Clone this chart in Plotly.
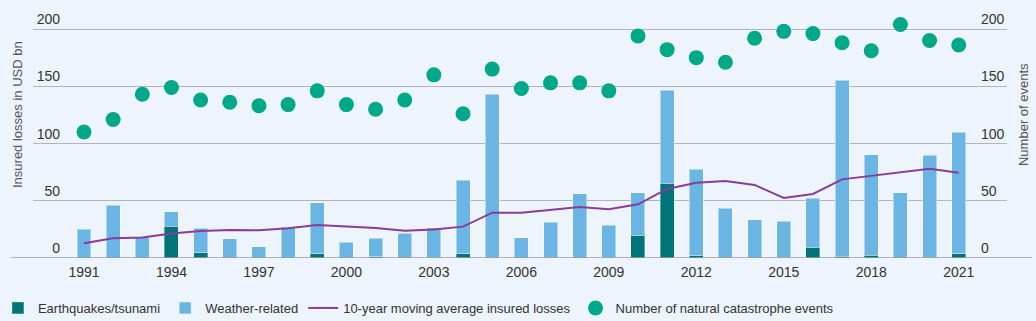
import plotly.graph_objects as go

years = list(range(1991, 2022))
quake = [0, 0, 0, 27.7, 4.4, 0, 0, 0, 3.5, 0,
         1.0, 0, 0.5, 3.5, 0.5, 0, 0.5, 0, 0.5, 19.8,
         65.2, 2.0, 0, 0, 0.5, 9.6, 1.7, 2.6, 0, 0.5, 3.8]
total = [25.0, 46.3, 18.0, 40.2, 26.2, 16.9, 9.9, 26.8, 48.3, 13.7,
         17.2, 21.8, 26.5, 67.8, 143.0, 17.5, 31.4, 56.2, 28.5, 56.8,
         146.4, 77.7, 43.4, 33.2, 32.0, 52.4, 155.2, 90.2, 56.8, 89.7, 110.0]
weather = [round(t - q, 1) for t, q in zip(total, quake)]
moving_avg = [12.8, 17.2, 18.0, 21.5, 23.6, 24.5, 24.2, 25.9, 28.8, 27.4,
              26.2, 23.9, 25.0, 27.4, 39.6, 39.6, 41.9, 44.5, 42.5, 46.9,
              60.3, 65.8, 67.2, 63.8, 52.4, 55.9, 68.7, 71.9, 74.8, 78.0, 74.5]
events = [110, 121, 143, 149, 138, 136, 133, 134, 146, 134,
          130, 138, 160, 126, 165, 148, 153, 153, 146, 194,
          182, 175, 171, 192, 198, 196, 188, 181, 204, 190, 186]

xtick_vals = list(range(1991, 2022, 3))
xtick_text = [str(v) for v in xtick_vals]
ytick_vals = [0, 50, 100, 150, 200]
ytick_text = [str(v) for v in ytick_vals]

BG = "#EDF4FB"
FONT = "Liberation Sans, Arial, sans-serif"

# geometry: value 0 at y=258px, value 200 at y=29px; plot area x 33..1007
px_per_unit = (258 - 29) / 200
ymax = 221
top_margin = 258 - ymax * px_per_unit
plot_h = 258 - top_margin
plot_w = 974

fig = go.Figure()
fig.add_trace(go.Bar(x=years, y=quake, name="Earthquakes/tsunami",
                     marker=dict(color="#00747A", line=dict(color="rgba(255,255,255,0.35)", width=1)),
                     width=0.48))
fig.add_trace(go.Bar(x=years, y=weather, name="Weather-related",
                     marker=dict(color="#6AB5E4", line=dict(color="rgba(255,255,255,0.45)", width=1)),
                     width=0.48))
fig.add_trace(go.Scatter(x=years, y=moving_avg, name="10-year moving average insured losses",
                         mode="lines", line=dict(color="#8B3C9B", width=2)))
fig.add_trace(go.Scatter(x=years, y=events, name="Number of natural catastrophe events",
                         mode="markers", yaxis="y2",
                         marker=dict(color="#00A88A", size=15)))

fig.update_layout(
    width=1036, height=321,
    margin=dict(l=33, r=29, t=top_margin, b=63, pad=0, autoexpand=False),
    paper_bgcolor=BG, plot_bgcolor=BG,
    barmode="stack",
    font=dict(family=FONT, size=14, color="#333333"),
    showlegend=True,
    legend=dict(orientation="h", x=-0.036, xanchor="left", y=-35 / plot_h, yanchor="top",
                font=dict(size=13, color="#333333"), bgcolor="rgba(0,0,0,0)",
                itemwidth=30, tracegroupgap=0, traceorder="normal"),
    xaxis=dict(range=[1989.251, 2022.656], tickvals=xtick_vals, ticktext=xtick_text,
               showgrid=False, zeroline=False, showline=False, ticks="",
               tickfont=dict(size=14, color="#333333"), ticklabelstandoff=4),
    yaxis=dict(range=[0, ymax], tickvals=ytick_vals, ticktext=ytick_text,
               anchor="free", position=(60 - 33) / plot_w,
               showgrid=True, gridcolor="#B2B4BA", gridwidth=1, zeroline=False,
               showline=False, ticks="", ticklabelposition="outside top",
               tickfont=dict(size=14, color="#333333")),
    yaxis2=dict(range=[0, ymax], tickvals=ytick_vals, ticktext=ytick_text,
                overlaying="y", side="right", anchor="free", position=(980 - 33) / plot_w,
                showgrid=False, zeroline=False,
                showline=False, ticks="", ticklabelposition="outside top",
                tickfont=dict(size=14, color="#333333")),
    shapes=[
        dict(type="line", xref="paper", yref="y", x0=-0.0226, x1=1.0257, y0=0, y1=0,
             line=dict(color="#9A9CA2", width=1.5), layer="above"),
    ],
    annotations=[
        dict(text="Insured losses in USD bn", xref="paper", yref="paper",
             x=(17 - 33) / plot_w, y=(258 - 115) / plot_h, textangle=-90, showarrow=False,
             xanchor="center", yanchor="middle", font=dict(size=13, color="#555555")),
        dict(text="Number of events", xref="paper", yref="paper",
             x=(1023 - 33) / plot_w, y=(258 - 115) / plot_h, textangle=-90, showarrow=False,
             xanchor="center", yanchor="middle", font=dict(size=13, color="#555555")),
    ],
)

fig.write_html("out.html")
